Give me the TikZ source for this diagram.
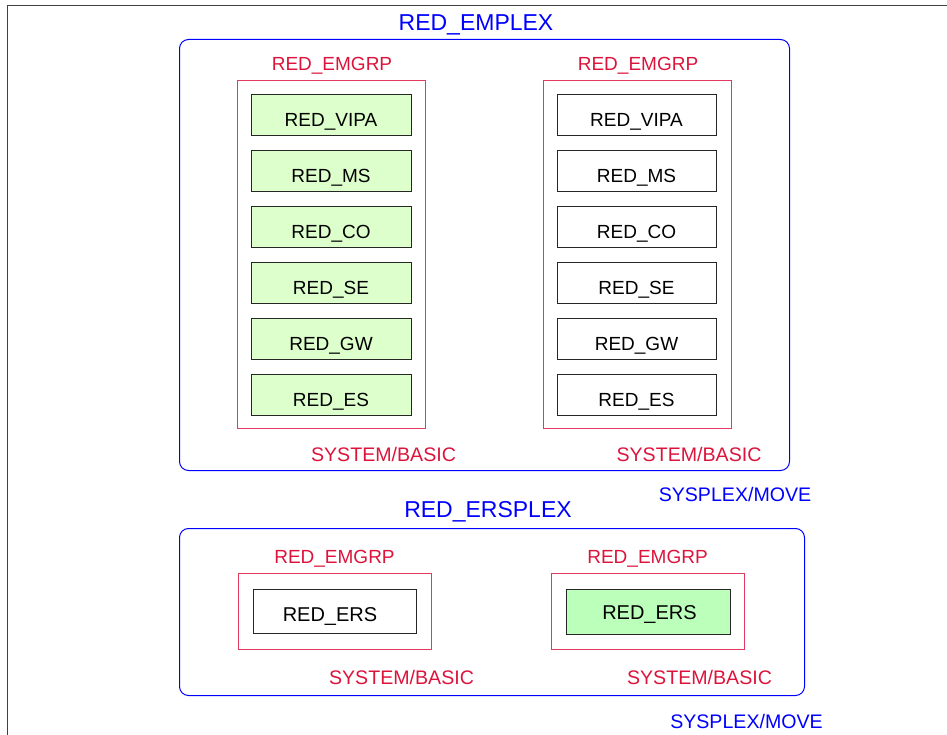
\documentclass[tikz,border=0pt]{standalone}
\usepackage{fontspec}
\setmainfont{Liberation Sans}
\definecolor{crim}{HTML}{DC143C}
\definecolor{crimline}{HTML}{E23A5E}
\definecolor{lgreen}{HTML}{DDFFCC}
\definecolor{mgreen}{HTML}{BBFFBB}
\begin{document}
\begin{tikzpicture}[x=1pt,y=-1pt,
  plex/.style={draw=blue, line width=1pt, rounded corners=9pt, inner sep=0pt, anchor=north west},
  grp/.style={draw=crimline, line width=1pt, inner sep=0pt, anchor=north west},
  item/.style={draw=black!85, line width=1pt, inner sep=0pt, anchor=north west, minimum width=160pt, minimum height=41pt},
  itemtxt/.style={anchor=base, inner sep=0pt, font=\fontsize{19}{22}\selectfont},
  ptitle/.style={anchor=base, inner sep=0pt, text=blue, font=\fontsize{23}{26}\selectfont},
  gtitle/.style={anchor=base, inner sep=0pt, text=crim, font=\fontsize{19}{22}\selectfont},
  sysb/.style={anchor=base, inner sep=0pt, text=crim, font=\fontsize{19.6}{22}\selectfont},
  sysm/.style={anchor=base, inner sep=0pt, text=blue, font=\fontsize{19.6}{22}\selectfont}
]
\useasboundingbox (0,0) rectangle (947,735);
% frame
\coordinate (fa) at (7.5,740);
\coordinate (fb) at (7.5,6);
\coordinate (fc) at (950,6);
\draw[black!75, line width=1pt] (fa) -- (fb) -- (fc);

% ---------- RED_EMPLEX ----------
\node[plex, minimum width=610pt, minimum height=431pt] (emplex) at (179,39) {};
\node[ptitle] (emplexT) at (476,31) {RED\_EMPLEX};

\node[grp, minimum width=188pt, minimum height=348pt] (g1) at (237,80) {};
\node[gtitle] (g1T) at (332,70.7) {RED\_EMGRP};
\node[grp, minimum width=188pt, minimum height=348pt] (g2) at (543,80) {};
\node[gtitle] (g2T) at (638,70.7) {RED\_EMGRP};

\foreach \n/\t [count=\i from 0] in {vipa/RED\_VIPA, ms/RED\_MS, co/RED\_CO, se/RED\_SE, gw/RED\_GW, es/RED\_ES} {
  \node[item, fill=lgreen] (a\n) at (251,94+56*\i) {};
  \node[itemtxt] (a\n T) at (331,126.5+56*\i) {\t};
  \node[item, minimum width=159pt] (b\n) at (557,94+56*\i) {};
  \node[itemtxt] (b\n T) at (636.5,126.5+56*\i) {\t};
}

\node[sysb] (s1) at (383.5,461) {SYSTEM/BASIC};
\node[sysb] (s2) at (689,461) {SYSTEM/BASIC};
\node[sysm] (m1) at (735,501) {SYSPLEX/MOVE};

% ---------- RED_ERSPLEX ----------
\node[ptitle] (ersT) at (488,517.3) {RED\_ERSPLEX};
\node[plex, minimum width=625pt, minimum height=167pt] (ersplex) at (179,528) {};

\node[grp, minimum width=193pt, minimum height=76pt] (g3) at (238,573) {};
\node[gtitle] (g3T) at (334.5,563.5) {RED\_EMGRP};
\node[grp, minimum width=193pt, minimum height=76pt] (g4) at (551,573) {};
\node[gtitle] (g4T) at (647.5,563.5) {RED\_EMGRP};

\node[item, minimum width=163pt, minimum height=44pt] (e1) at (253,589) {};
\node[itemtxt, font=\fontsize{20}{22}\selectfont] (e1T) at (330,621.7) {RED\_ERS};
\node[item, fill=mgreen, minimum width=164pt, minimum height=45pt] (e2) at (566,589) {};
\node[itemtxt, font=\fontsize{20}{22}\selectfont] (e2T) at (649.5,619.3) {RED\_ERS};

\node[sysb] (s3) at (401.5,684) {SYSTEM/BASIC};
\node[sysb] (s4) at (699.5,684) {SYSTEM/BASIC};
\node[sysm] (m2) at (746.5,728) {SYSPLEX/MOVE};
\end{tikzpicture}
\end{document}
